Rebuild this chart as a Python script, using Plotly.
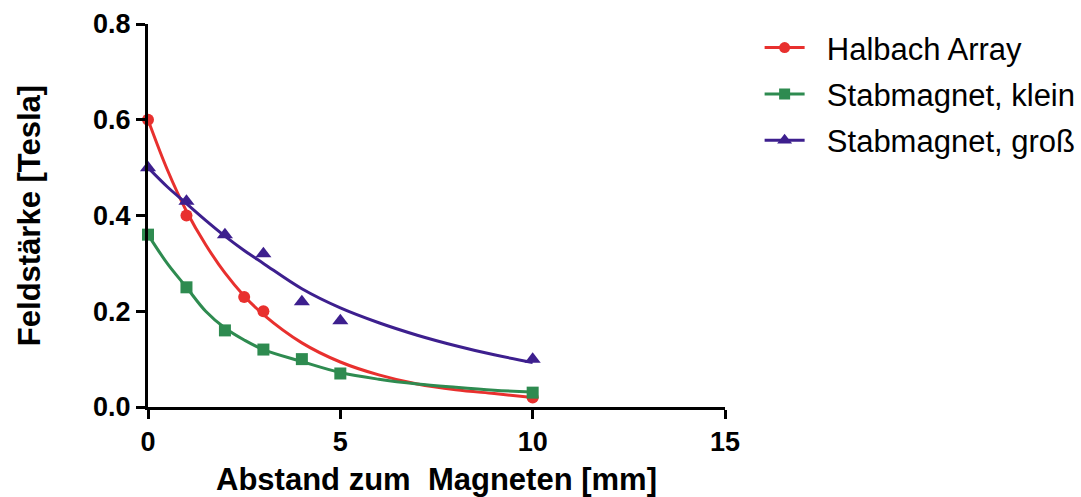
import plotly.graph_objects as go

# Measured field strength vs. distance
x_halbach = [0, 1, 2.5, 3, 10]
y_halbach = [0.60, 0.40, 0.23, 0.20, 0.02]

x_klein = [0, 1, 2, 3, 4, 5, 10]
y_klein = [0.36, 0.25, 0.16, 0.12, 0.10, 0.07, 0.03]

x_gross = [0, 1, 2, 3, 4, 5, 10]
y_gross = [0.50, 0.43, 0.36, 0.32, 0.22, 0.18, 0.10]

# Decay curves (fitted trend) sampled along the distance axis
x_curve = [0, 0.5, 1, 1.5, 2, 2.5, 3, 4, 5, 6, 7, 8, 9, 10]
curve_halbach = [0.60, 0.496, 0.409, 0.339, 0.280, 0.232, 0.193, 0.134, 0.094, 0.067, 0.048, 0.036, 0.028, 0.020]
curve_klein = [0.36, 0.30, 0.25, 0.20, 0.165, 0.14, 0.12, 0.095, 0.072, 0.058, 0.048, 0.041, 0.035, 0.031]
curve_gross = [0.50, 0.46, 0.425, 0.39, 0.357, 0.327, 0.30, 0.247, 0.207, 0.176, 0.150, 0.128, 0.109, 0.093]

names = ["Halbach Array", "Stabmagnet, klein", "Stabmagnet, groß"]
colors = ["#E8302E", "#2E8B50", "#3D1F8E"]
symbols = ["circle", "square", "triangle-up"]
marker_sizes = [12, 12, 14]

series = [
    (x_halbach, y_halbach, curve_halbach),
    (x_klein, y_klein, curve_klein),
    (x_gross, y_gross, curve_gross),
]

fig = go.Figure()
for i, (xs, ys, cv) in enumerate(series):
    fig.add_trace(go.Scatter(
        x=x_curve, y=cv, mode="lines",
        line=dict(color=colors[i], width=3, shape="spline"),
        showlegend=False, cliponaxis=False, hoverinfo="skip",
    ))
    fig.add_trace(go.Scatter(
        x=xs, y=ys, mode="markers",
        marker=dict(color=colors[i], symbol=symbols[i], size=marker_sizes[i]),
        showlegend=False, cliponaxis=False, name=names[i],
    ))
    # legend entry showing line + marker (nbsp padding widens the gap to the text)
    fig.add_trace(go.Scatter(
        x=[None], y=[None], mode="lines+markers", name="\u00a0\u00a0" + names[i],
        line=dict(color=colors[i], width=3),
        marker=dict(color=colors[i], symbol=symbols[i], size=marker_sizes[i] - 1),
        legendgroup=names[i],
    ))

axis_common = dict(
    showline=True, linecolor="black", linewidth=3,
    ticks="outside", ticklen=9, tickwidth=3, tickcolor="black",
    showgrid=False, zeroline=False, automargin=False,
    tickfont=dict(family="Liberation Sans, Arial", size=27, color="black", weight="bold"),
)

title_font = dict(family="Liberation Sans, Arial", size=31, color="black", weight="bold")

fig.update_xaxes(
    range=[0, 15], tickvals=[0, 5, 10, 15], ticktext=["0", "5", "10", "15"],
    title=dict(text="Abstand zum  Magneten [mm]", standoff=14, font=title_font),
    **axis_common,
)
fig.update_yaxes(
    range=[0, 0.8], tickvals=[0, 0.2, 0.4, 0.6, 0.8],
    ticktext=["0.0", "0.2", "0.4", "0.6", "0.8"],
    title=dict(text="Feldstärke [Tesla]", standoff=44, font=title_font),
    **axis_common,
)

fig.update_layout(
    width=1081, height=497,
    margin=dict(l=148, r=356, t=24, b=90, autoexpand=False),
    paper_bgcolor="white", plot_bgcolor="white",
    legend=dict(
        x=1.06, y=1.008, xanchor="left", yanchor="top",
        font=dict(family="Liberation Sans, Arial", size=31, color="black"),
        itemwidth=40, tracegroupgap=3, bgcolor="rgba(0,0,0,0)",
    ),
)

fig.write_html("out.html")
